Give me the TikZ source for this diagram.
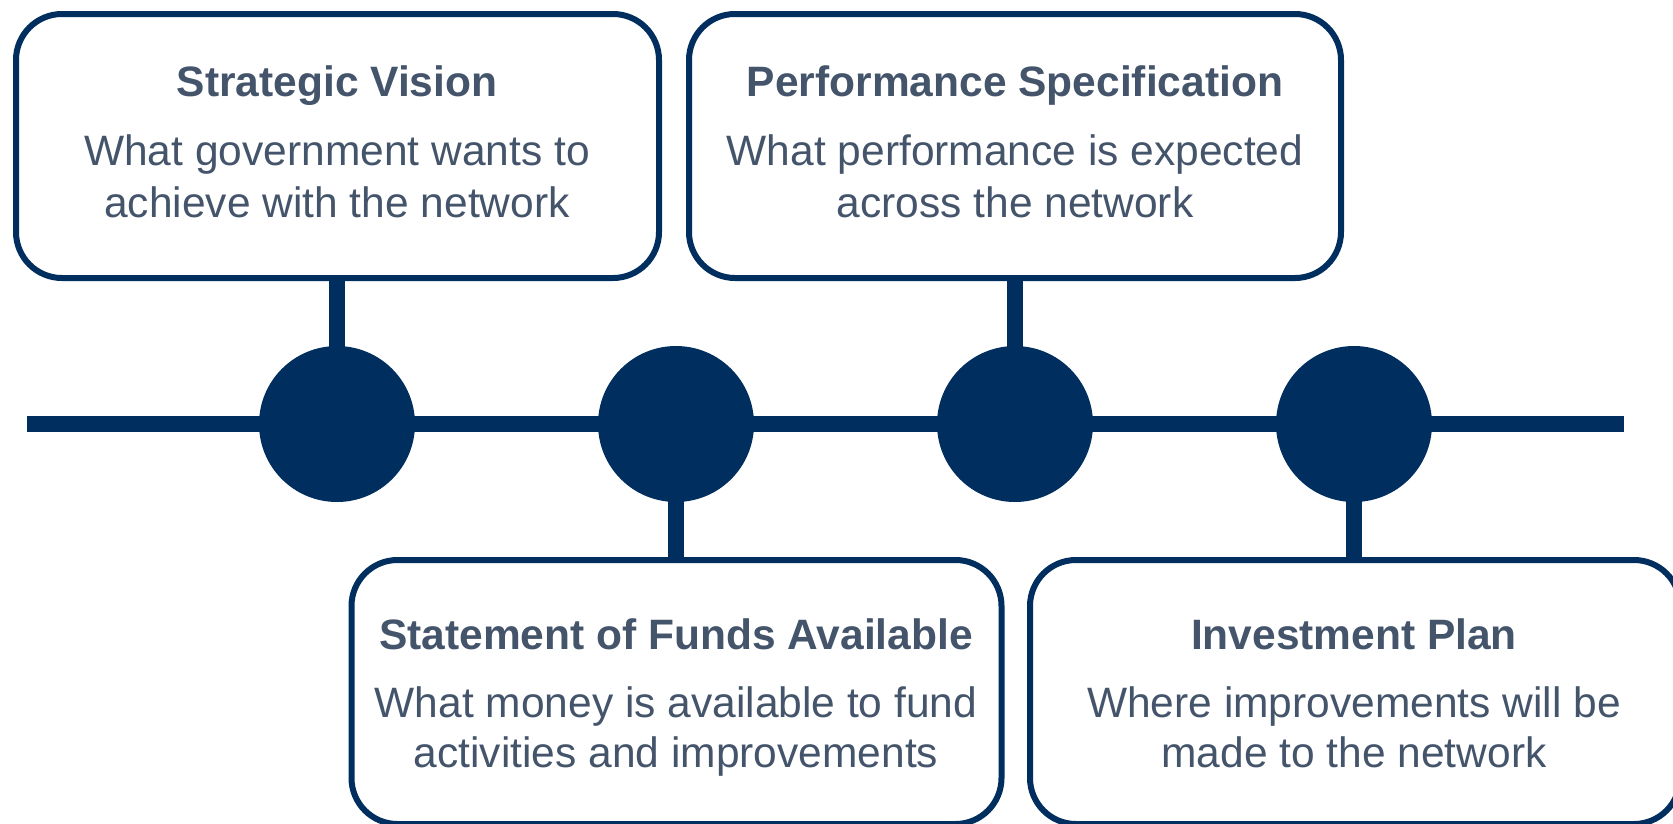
\documentclass[tikz,border=0pt]{standalone}
\usepackage{fontspec}
\setmainfont{Liberation Sans}
\usetikzlibrary{backgrounds}
\definecolor{navy}{RGB}{0,47,95}
\definecolor{slate}{RGB}{68,84,106}
\begin{document}
\begin{tikzpicture}[x=1pt,y=-1pt,
  box/.style={draw=navy,line width=6pt,rounded corners=46pt,fill=white,minimum width=650pt,minimum height=264pt,inner sep=0pt},
  dot/.style={circle,fill=navy,minimum size=156pt,inner sep=0pt},
  ttl/.style={font=\bfseries\fontsize{42.5}{51}\selectfont,text=slate,anchor=base,inner sep=0pt},
  txt/.style={font=\fontsize{42.5}{51}\selectfont,text=slate,anchor=base,inner sep=0pt},
  bar/.style={draw=navy,line width=16pt}]
\useasboundingbox (0,0) rectangle (1673,823);
% boxes
\node[box,minimum width=643pt] (b1) at (337.5,146) {};
\node[box,minimum width=652pt] (b2) at (1015,146) {};
\node[box] (b3) at (676.5,692) {};
\node[box] (b4) at (1355,692) {};
% circles
\node[dot] (c1) at (337,424) {};
\node[dot] (c2) at (676,424) {};
\node[dot] (c3) at (1015,424) {};
\node[dot] (c4) at (1354,424) {};
\coordinate (L) at (27,424);
\coordinate (R) at (1624,424);
\begin{pgfonlayer}{background}
\draw[bar] (L) -- (R);
\draw[bar] (b1.south -| c1) -- (c1.center);
\draw[bar] (b2.south -| c3) -- (c3.center);
\draw[bar] (b3.north -| c2) -- (c2.center);
\draw[bar] (b4.north -| c4) -- (c4.center);
\end{pgfonlayer}
% texts
\node[ttl] (t1) at (337,96) {Strategic Vision};
\node[txt] (t1a) at (337,165) {What government wants to};
\node[txt] (t1b) at (337,217) {achieve with the network};
\node[ttl] (t2) at (1015,96) {Performance Specification};
\node[txt] (t2a) at (1015,165) {What performance is expected};
\node[txt] (t2b) at (1015,217) {across the network};
\node[ttl] (t3) at (676,649) {Statement of Funds Available};
\node[txt] (t3a) at (676,717) {What money is available to fund};
\node[txt] (t3b) at (676,767) {activities and improvements};
\node[ttl] (t4) at (1354,649) {Investment Plan};
\node[txt] (t4a) at (1354,717) {Where improvements will be};
\node[txt] (t4b) at (1354,767) {made to the network};
\end{tikzpicture}
\end{document}
